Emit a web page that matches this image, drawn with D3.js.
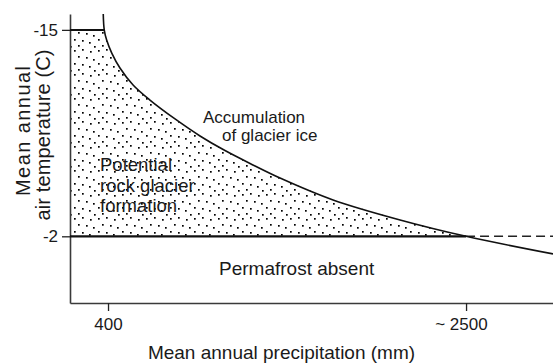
<!DOCTYPE html>
<html>
<head>
<meta charset="utf-8">
<script src="https://cdn.jsdelivr.net/npm/d3@7"></script>
<style>
  html, body { margin: 0; padding: 0; background: #fff; }
  svg { display: block; }
  text { font-family: "Liberation Sans", Arial, Helvetica, sans-serif; fill: #1a1a1a; }
</style>
</head>
<body>
<svg id="chart" width="553" height="363"></svg>
<script>
// ---- Data ----
const xTicks = [400, 2500];
const xTickLabels = ["400", "~ 2500"];
const yTicks = [-15, -2];
const yTickLabels = ["-15", "-2"];

// Upper boundary curve (accumulation of glacier ice), precipitation (mm) vs temperature (C)
const curvePrecip = [372, 378, 392, 422, 470, 547, 646, 793, 939.5, 1086, 1233, 1409, 1720, 2113, 2500, 3010];
const curveTemp   = [-16.0, -14.99, -14.36, -13.54, -12.6, -11.53, -10.58, -9.39, -8.32, -7.40, -6.59, -5.67, -4.29, -3.03, -2.0, -0.89];

const coldLimitTemp = -15;      // upper horizontal line
const permafrostTemp = -2;      // permafrost limit
const precipLimit = 2500;       // where curve crosses -2
const xDomain = [177, 3010];
const yDomain = [-16, 2.2];

// ---- Layout ----
const svg = d3.select("#chart");
const mLeft = 70, mRight = 553, mTop = 14, mBottom = 303;

const x = d3.scaleLinear().domain(xDomain).range([mLeft, mRight]);
const y = d3.scaleLinear().domain(yDomain).range([mTop, mBottom]);

// stipple pattern
const defs = svg.append("defs");
const pat = defs.append("pattern")
  .attr("id", "stipple").attr("patternUnits", "userSpaceOnUse")
  .attr("width", 24).attr("height", 24);
const dots = [[2,2],[10,1],[18,3],[6,8],[14,9],[21,11],[2,15],[10,16],[17,18],[6,21],[22,22]];
pat.selectAll("rect").data(dots).join("rect")
  .attr("x", d => d[0]).attr("y", d => d[1])
  .attr("width", 1.7).attr("height", 1.7).attr("fill", "#000");

// stippled region: between left axis, -15 line, curve and -2 line
const curvePts = curvePrecip.map((p, i) => [p, curveTemp[i]]);
const curveGen = d3.line().x(d => x(d[0])).y(d => y(d[1])).curve(d3.curveCatmullRom.alpha(0.5));
const inner = curvePts.filter(d => d[1] >= coldLimitTemp && d[1] <= permafrostTemp);
const regionPts = [[xDomain[0], coldLimitTemp], ...inner, [xDomain[0], permafrostTemp]];
svg.append("path")
  .attr("d", d3.line().x(d => x(d[0])).y(d => y(d[1]))(regionPts) + "Z")
  .attr("fill", "url(#stipple)").attr("stroke", "none");

// axes
const xAxis = d3.axisBottom(x).tickValues(xTicks)
  .tickFormat((d, i) => xTickLabels[i]).tickSizeInner(8).tickSizeOuter(0).tickPadding(7);
const gx = svg.append("g").attr("transform", `translate(0,${mBottom})`).call(xAxis);
gx.selectAll("text").attr("font-size", 17).attr("fill", "#1a1a1a")
  .attr("dx", (d, i) => xTickLabels[i].startsWith("~") ? "-0.3em" : 0);

const yAxis = d3.axisLeft(y).tickValues(yTicks)
  .tickFormat((d, i) => yTickLabels[i]).tickSizeInner(8).tickSizeOuter(0).tickPadding(4);
const gy = svg.append("g").attr("transform", `translate(${mLeft},0)`).call(yAxis);
gy.selectAll("text").attr("font-size", 17).attr("fill", "#1a1a1a");

[gx, gy].forEach(g => {
  g.select(".domain").attr("stroke", "#3a3a3a").attr("stroke-width", 1.6);
  g.selectAll(".tick line").attr("stroke", "#222").attr("stroke-width", 1.3);
});

// horizontal boundary lines
const crossCold = curvePts.find(d => d[1] >= coldLimitTemp);
svg.append("line")
  .attr("x1", x(xDomain[0])).attr("x2", x(crossCold[0]))
  .attr("y1", y(coldLimitTemp)).attr("y2", y(coldLimitTemp))
  .attr("stroke", "#111").attr("stroke-width", 2);
svg.append("line")
  .attr("x1", x(xDomain[0])).attr("x2", x(precipLimit))
  .attr("y1", y(permafrostTemp)).attr("y2", y(permafrostTemp))
  .attr("stroke", "#111").attr("stroke-width", 2.2);
svg.append("line")
  .attr("x1", x(precipLimit)).attr("x2", x(xDomain[1]))
  .attr("y1", y(permafrostTemp)).attr("y2", y(permafrostTemp))
  .attr("stroke", "#222").attr("stroke-width", 1.5).attr("stroke-dasharray", "9,5");

// curve
svg.append("path")
  .attr("d", curveGen(curvePts))
  .attr("fill", "none").attr("stroke", "#111").attr("stroke-width", 1.6);

// region labels
function label(lines, px, py, size, dy) {
  const t = svg.append("text").attr("font-size", size);
  lines.forEach((s, i) => {
    t.append("tspan").attr("x", px[i] !== undefined ? px[i] : px[0]).attr("y", py + i * dy).text(s);
  });
}
label(["Accumulation", "of glacier ice"], [203, 222], 123, 17, 17.5);
label(["Potential", "rock glacier", "formation"], [100], 171, 18.5, 20.5);
label(["Permafrost absent"], [219], 275, 19, 0);

// axis titles
svg.append("text").attr("font-size", 19).attr("text-anchor", "middle")
  .attr("x", 281.5).attr("y", 359)
  .text("Mean annual precipitation (mm)");
svg.append("text").attr("font-size", 20).attr("text-anchor", "middle")
  .attr("transform", "translate(30,131) rotate(-90)")
  .attr("textLength", 130).attr("lengthAdjust", "spacing")
  .text("Mean annual");
svg.append("text").attr("font-size", 20).attr("text-anchor", "middle")
  .attr("transform", "translate(50,135) rotate(-90)")
  .attr("textLength", 171).attr("lengthAdjust", "spacing")
  .text("air temperature (C)");
</script>
</body>
</html>
